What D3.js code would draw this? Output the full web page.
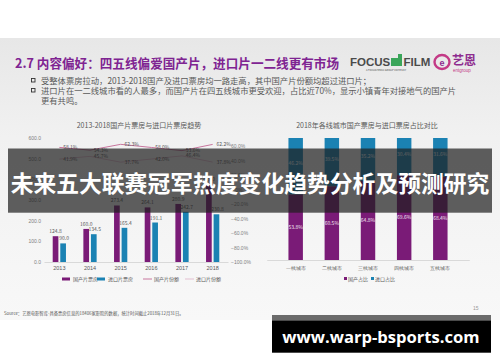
<!DOCTYPE html>
<html>
<head>
<meta charset="utf-8">
<script src="https://cdn.jsdelivr.net/npm/d3@7"></script>
<style>
body { margin: 0; background: #fff; }
svg { display: block; font-family: "Noto Sans CJK SC", "Noto Sans", sans-serif; }
</style>
</head>
<body>
<svg width="500" height="362"></svg>
<script>
// left chart: box office trend
const years = ['2013', '2014', '2015', '2016', '2017', '2018'];
const domesticBox = [124.8, 160.0, 273.4, 264.1, 280.9, 379.0];
const importBox = [90.0, 134.5, 165.4, 191.1, 242.7, 230.8];
const domesticShare = [58.1, 54.3, 62.3, 58.0, 53.6, 62.2];
const importShare = [41.9, 45.7, 37.7, 42.0, 46.4, 37.8];
const boxTicks = [0, 100, 200, 300, 400, 500, 600];
const shareTicks = [-100, -80, -60, -40, -20, 0, 20, 40, 60];
const trendLegend = ['国产片票房', '进口片票房', '国产片份额', '进口片份额'];

// right chart: city tiers
const cities = ['一线城市', '二线城市', '三线城市', '四线城市', '五线城市'];
const cityDomestic = [53.8, 60.5, 64.8, 69.6, 68.4];
const cityImport = [46.2, 39.5, 35.2, 30.4, 31.6];
const cityLegend = ['国产占比', '进口占比'];

const purple = '#7a1b77';
const blue = '#1b82b3';
const pinkLine = '#c8769e';
const lightLine = '#e3bfd0';
const grey = '#595959';

const svg = d3.select('svg');
const defs = svg.append('defs');
const grad = defs.append('linearGradient')
    .attr('id', 'bg')
    .attr('x1', 0).attr('y1', 0).attr('x2', 0).attr('y2', 1);
grad.append('stop').attr('offset', '0%').attr('stop-color', '#e7e7e7');
grad.append('stop').attr('offset', '35%').attr('stop-color', '#f1f1f1');
grad.append('stop').attr('offset', '100%').attr('stop-color', '#f8f8f8');

// slide background
svg.append('rect')
    .attr('x', 0).attr('y', 38)
    .attr('width', 500).attr('height', 282)
    .attr('fill', 'url(#bg)');

// heading
svg.append('text')
    .attr('x', 15).attr('y', 68)
    .attr('font-size', 12.6)
    .attr('font-weight', 'bold')
    .attr('fill', '#7f2492')
    .text('2.7 内容偏好：四五线偏爱国产片，进口片一二线更有市场');

const bullets = [
    ['受整体票房拉动，2013-2018国产及进口票房均一路走高，其中国产片份额均超过进口片；', 84],
    ['进口片在一二线城市看的人最多，而国产片在四五线城市更受欢迎，占比近70%，显示小镇青年对接地气的国产片', 94],
    ['更有共鸣。', 104]
];
bullets.forEach((b, i) => {
    if (i < 2) {
        svg.append('rect')
            .attr('x', 31.5).attr('y', b[1] - 5.5)
            .attr('width', 3.5).attr('height', 3.5)
            .attr('fill', 'none')
            .attr('stroke', '#333')
            .attr('stroke-width', 0.9);
    }
    svg.append('text')
        .attr('x', 41).attr('y', b[1])
        .attr('font-size', 8.3)
        .attr('fill', grey)
        .text(b[0]);
});

// logos
svg.append('text')
    .attr('x', 350).attr('y', 66)
    .attr('font-family', 'Liberation Sans, sans-serif')
    .attr('font-size', 11.5)
    .attr('font-weight', 'bold')
    .attr('fill', '#4b4b4b')
    .text('FOCUS');
svg.append('path')
    .attr('d', 'M391,66 L391,58 L398,58 L398,54 L402,54 L402,66 Z')
    .attr('fill', '#3aa55a');
svg.append('text')
    .attr('x', 403.5).attr('y', 66)
    .attr('font-family', 'Liberation Sans, sans-serif')
    .attr('font-size', 11.5)
    .attr('font-weight', 'bold')
    .attr('fill', '#4b4b4b')
    .text('FILM');
svg.append('text')
    .attr('x', 386).attr('y', 70.5)
    .attr('text-anchor', 'middle')
    .attr('font-size', 2.6)
    .attr('fill', '#555')
    .text('A FOCUSMEDIA GROUP COMPANY');
svg.append('ellipse')
    .attr('cx', 442).attr('cy', 62)
    .attr('rx', 7.5).attr('ry', 7)
    .attr('fill', 'none')
    .attr('stroke', '#c33a86')
    .attr('stroke-width', 2.4);
svg.append('text')
    .attr('x', 442).attr('y', 65.5)
    .attr('text-anchor', 'middle')
    .attr('font-family', 'Liberation Sans, sans-serif')
    .attr('font-size', 9)
    .attr('font-weight', 'bold')
    .attr('fill', '#8e2c8f')
    .text('e');
svg.append('text')
    .attr('x', 452).attr('y', 65)
    .attr('font-size', 12)
    .attr('font-weight', 'bold')
    .attr('fill', '#8e2c8f')
    .text('艺恩');
svg.append('text')
    .attr('x', 453).attr('y', 72)
    .attr('font-family', 'Liberation Sans, sans-serif')
    .attr('font-size', 4.5)
    .attr('fill', '#c33a86')
    .text('entgroup');

// ---------- left chart ----------
const x0 = d3.scaleBand().domain(years).range([44, 228]);
const x1 = d3.scaleBand().domain(['d', 'i']).range([0, x0.bandwidth()]).paddingInner(0.25).paddingOuter(1.15);
const yBox = d3.scaleLinear().domain([0, 600]).range([262, 138]);
const yShare = d3.scaleLinear().domain([-100, 60]).range([262, 146]);

svg.append('text')
    .attr('x', 139).attr('y', 128)
    .attr('text-anchor', 'middle')
    .attr('font-size', 7)
    .attr('fill', grey)
    .text('2013-2018国产片票房与进口片票房趋势');

const leftAxis = svg.append('g')
    .attr('transform', 'translate(41,0)')
    .call(d3.axisLeft(yBox).tickValues(boxTicks).tickSize(0).tickPadding(0).tickFormat(d3.format('.1f')));
leftAxis.select('.domain').remove();
leftAxis.selectAll('text').attr('font-size', 5).attr('fill', '#7f7f7f').attr('font-family', 'Liberation Sans, sans-serif');

const rightAxis = svg.append('g')
    .attr('transform', 'translate(231,0)')
    .call(d3.axisRight(yShare).tickValues(shareTicks).tickSize(0).tickPadding(0).tickFormat(d => d3.format('.1f')(d) + '%'));
rightAxis.select('.domain').remove();
rightAxis.selectAll('text').attr('font-size', 5).attr('fill', '#7f7f7f').attr('font-family', 'Liberation Sans, sans-serif');

const xAxis = svg.append('g')
    .attr('transform', 'translate(0,262)')
    .call(d3.axisBottom(x0).tickSize(0).tickPadding(4));
xAxis.select('.domain').attr('stroke', '#d9d9d9');
xAxis.selectAll('text').attr('font-size', 5.5).attr('fill', grey).attr('font-family', 'Liberation Sans, sans-serif');

const groups = svg.append('g').selectAll('g')
    .data(years)
    .join('g')
    .attr('transform', d => `translate(${x0(d)},0)`);

groups.append('rect')
    .attr('x', x1('d'))
    .attr('y', (d, i) => yBox(domesticBox[i]))
    .attr('width', x1.bandwidth())
    .attr('height', (d, i) => yBox(0) - yBox(domesticBox[i]))
    .attr('fill', purple);
groups.append('rect')
    .attr('x', x1('i'))
    .attr('y', (d, i) => yBox(importBox[i]))
    .attr('width', x1.bandwidth())
    .attr('height', (d, i) => yBox(0) - yBox(importBox[i]))
    .attr('fill', blue);
groups.append('text')
    .attr('x', x1('d') + x1.bandwidth() / 2)
    .attr('y', (d, i) => yBox(domesticBox[i]) - 3)
    .attr('text-anchor', 'middle')
    .attr('font-size', 5)
    .attr('fill', grey)
    .text((d, i) => domesticBox[i].toFixed(1));
groups.append('text')
    .attr('x', x1('i') + x1.bandwidth() / 2 + 1)
    .attr('y', (d, i) => yBox(importBox[i]) - 3)
    .attr('text-anchor', 'middle')
    .attr('font-size', 5)
    .attr('fill', grey)
    .text((d, i) => importBox[i].toFixed(1));

const cx = d => x0(d) + x0.bandwidth() / 2;
const shareLine = d3.line().x(d => cx(d[0])).y(d => yShare(d[1]));
[[domesticShare, pinkLine], [importShare, lightLine]].forEach(([vals, col]) => {
    const pts = years.map((y, i) => [y, vals[i]]);
    svg.append('path')
        .attr('d', shareLine(pts))
        .attr('fill', 'none')
        .attr('stroke', col)
        .attr('stroke-width', 1);
    svg.append('g').selectAll('text')
        .data(pts)
        .join('text')
        .attr('x', d => cx(d[0]) + 11)
        .attr('y', d => yShare(d[1]) + 1.5)
        .attr('text-anchor', 'middle')
        .attr('font-size', 5)
        .attr('fill', grey)
        .text(d => d[1].toFixed(1) + '%');
});

// left legend
const legL = [[62, 'rect', purple], [97, 'rect', blue], [143, 'line', pinkLine], [185, 'line', lightLine]];
legL.forEach((l, i) => {
    if (l[1] === 'rect') {
        svg.append('rect').attr('x', l[0]).attr('y', 277.5).attr('width', 8).attr('height', 3).attr('fill', l[2]);
    } else {
        svg.append('line').attr('x1', l[0]).attr('x2', l[0] + 9).attr('y1', 279).attr('y2', 279).attr('stroke', l[2]).attr('stroke-width', 1);
    }
    svg.append('text')
        .attr('x', l[0] + 11).attr('y', 281)
        .attr('font-size', 5)
        .attr('fill', grey)
        .text(trendLegend[i]);
});

// ---------- right chart ----------
const xc = d3.scaleBand().domain(cities).range([266.75, 469.25]).padding(0.6);
const yPct = d3.scaleLinear().domain([0, 100]).range([260, 138]);

svg.append('text')
    .attr('x', 367).attr('y', 128)
    .attr('text-anchor', 'middle')
    .attr('font-size', 7)
    .attr('fill', grey)
    .text('2018年各线城市国产票房与进口票房占比对比');

const cAxis = svg.append('g')
    .attr('transform', 'translate(0,260)')
    .call(d3.axisBottom(xc).tickSize(0).tickPadding(6));
cAxis.select('.domain').attr('stroke', '#d9d9d9');
cAxis.selectAll('text').attr('font-size', 5).attr('fill', grey);

const cols = svg.append('g').selectAll('g')
    .data(cities)
    .join('g');
cols.append('rect')
    .attr('x', d => xc(d))
    .attr('y', (d, i) => yPct(cityDomestic[i]))
    .attr('width', xc.bandwidth())
    .attr('height', (d, i) => yPct(0) - yPct(cityDomestic[i]))
    .attr('fill', purple);
cols.append('rect')
    .attr('x', d => xc(d))
    .attr('y', (d, i) => yPct(cityDomestic[i] + cityImport[i]))
    .attr('width', xc.bandwidth())
    .attr('height', (d, i) => yPct(cityDomestic[i]) - yPct(cityDomestic[i] + cityImport[i]))
    .attr('fill', blue);
cols.append('text')
    .attr('x', d => xc(d) + xc.bandwidth() / 2)
    .attr('y', (d, i) => yPct(cityDomestic[i] / 2) + 1.8)
    .attr('text-anchor', 'middle')
    .attr('font-size', 5)
    .attr('fill', '#f2e6f2')
    .text((d, i) => cityDomestic[i].toFixed(1) + '%');
cols.append('text')
    .attr('x', d => xc(d) + xc.bandwidth() / 2)
    .attr('y', (d, i) => yPct(cityDomestic[i] + cityImport[i] / 2) - 1)
    .attr('text-anchor', 'middle')
    .attr('font-size', 5)
    .attr('fill', '#e6f2f8')
    .text((d, i) => cityImport[i].toFixed(1) + '%');

[[344, purple], [371, blue]].forEach((l, i) => {
    svg.append('rect').attr('x', l[0]).attr('y', 277).attr('width', 3).attr('height', 3).attr('fill', l[1]);
    svg.append('text')
        .attr('x', l[0] + 4).attr('y', 281)
        .attr('font-size', 5)
        .attr('fill', grey)
        .text(cityLegend[i]);
});

// footer
svg.append('text')
    .attr('x', 4).attr('y', 314.5)
    .attr('font-size', 4.3)
    .attr('fill', '#555')
    .text('Source：艺恩电影智库-具备票房信息的18406家影院的数据，统计时间截止2018年12月31日。');
svg.append('text')
    .attr('x', 473).attr('y', 310)
    .attr('font-size', 5)
    .attr('fill', '#999')
    .attr('font-family', 'Liberation Sans, sans-serif')
    .text('15');

// overlay banner
svg.append('rect')
    .attr('x', 8).attr('y', 148.5)
    .attr('width', 484).attr('height', 64.2)
    .attr('fill', 'rgba(31,31,31,0.71)');
svg.append('text')
    .attr('x', 250).attr('y', 192)
    .attr('text-anchor', 'middle')
    .attr('font-size', 22.8)
    .attr('font-weight', 'bold')
    .attr('fill', '#fff')
    .text('未来五大联赛冠军热度变化趋势分析及预测研究');

// watermark box
svg.append('rect').attr('x', 272).attr('y', 315).attr('width', 219).attr('height', 6).attr('fill', '#6b6b6b');
svg.append('rect').attr('x', 272).attr('y', 320.7).attr('width', 219).attr('height', 32).attr('fill', '#000');
svg.append('text')
    .attr('x', 381).attr('y', 343)
    .attr('text-anchor', 'middle')
    .attr('font-family', 'Open Sans, sans-serif')
    .attr('font-size', 16.6)
    .attr('font-weight', 'bold')
    .attr('fill', '#fff')
    .text('www.warp-bsports.com');
</script>
</body>
</html>
